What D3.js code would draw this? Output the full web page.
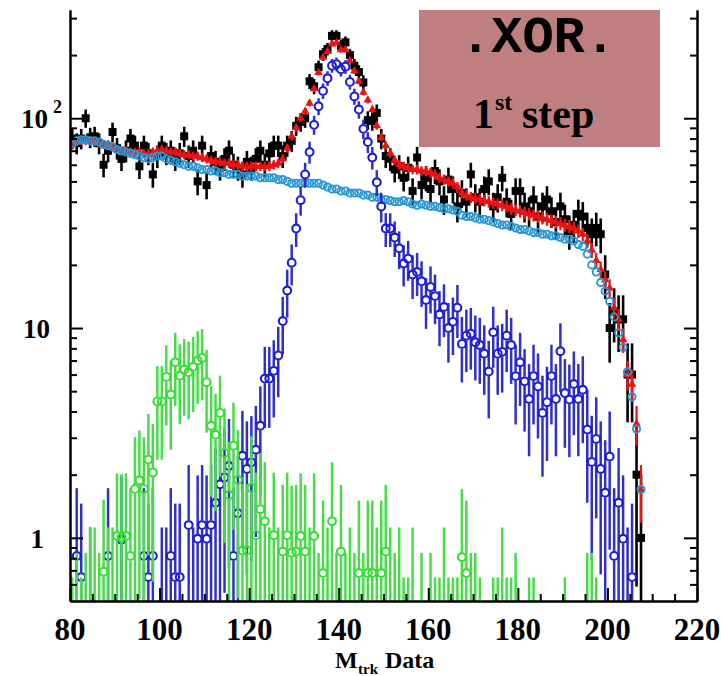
<!DOCTYPE html>
<html>
<head>
<meta charset="utf-8">
<script src="https://cdn.jsdelivr.net/npm/d3@7"></script>
<style>
  body { margin: 0; background: #fff; }
  .lbl { font-family: "Liberation Serif", "Times New Roman", serif; font-weight: bold; fill: #000; }
</style>
</head>
<body>
<svg id="chart" width="721" height="676"></svg>
<script>
// one unit wide bins, first bin starts at 80
const binStart = 80;

// black squares: data
const dataCounts = [
  80, 76, 80, 100, 81, 82, 76, 60, 70, 86,
  72, 64, 70, 80, 74, 59, 74, 68, 54, 66,
  74, 68, 70, 64, 68, 82, 66, 70, 50, 74,
  48, 66, 62, 58, 64, 70, 60, 58, 54, 62,
  58, 64, 70, 60, 68, 74, 74, 66, 74, 78,
  92, 96, 100, 150, 142, 175, 202, 214, 247, 247,
  221, 230, 200, 178, 166, 148, 98, 97, 106, 80,
  66, 64, 57, 59, 52, 58, 45, 65, 48, 52,
  46, 56, 50, 41, 51, 46, 38, 44, 40, 54,
  42, 40, 46, 50, 38, 42, 52, 40, 35, 45,
  45, 38, 36, 41, 34, 38, 41, 36, 32, 38,
  33, 29, 31, 35, 34, 30, 28, 30, 28, 18,
  10, 12, 11, 11, 6, 6, 2, 1
];

// red triangles: total MC
const sumMC = [
  75, 77, 78, 78, 78, 77, 76, 75, 74, 73,
  71, 70, 70, 69, 69, 69, 68, 68, 69, 70,
  71, 70, 69, 69, 68, 67, 67, 66, 66, 65,
  64, 63, 62, 62, 61, 61, 60, 60, 59, 59,
  59, 59, 59, 59, 59, 60, 61, 64, 72, 82,
  90, 100, 108, 118, 138, 165, 195, 208, 226, 229,
  212, 212, 188, 168, 150, 133, 122, 110, 92, 81,
  74, 68, 63, 60, 59, 58, 57, 57, 56, 56,
  55, 54, 52, 51, 50, 49, 47, 44, 43, 42,
  41.5, 41, 40.5, 40, 39.5, 39, 38.5, 38, 37, 36.5,
  36, 35.5, 35, 34.5, 34, 33.5, 33, 32.5, 32, 31.5,
  31, 30.5, 30, 29, 28, 26, 23.5, 21, 19, 17,
  15.5, 12.5, 11, 8.8, 6.0, 5.4, 3.5, 1.7
];

// light blue open circles: background MC
const bkgMC = [
  76, 78, 79, 79, 78, 78, 77, 75, 74, 73,
  71, 70, 69, 68, 67, 66, 65, 64, 65, 66,
  66, 64, 63, 62, 61, 60, 59, 59, 58, 57,
  57, 56, 56, 55, 55, 54, 54, 54, 53, 53,
  53, 53, 52, 52, 52, 52, 51, 51, 50, 49,
  49, 49, 49, 49, 49, 49, 48, 47, 46, 46,
  45, 45, 44, 44, 44, 43, 43, 42, 42, 41,
  41, 40.5, 40, 40, 40.5, 40, 39, 38.5, 39, 38.5,
  38, 38, 37.5, 37, 37, 36.5, 36, 34.5, 34, 34,
  33.5, 33, 33, 32.5, 32, 31.5, 31, 31, 30.5, 30,
  29.5, 29.5, 29, 28.5, 28.5, 28, 28, 27.5, 27.5, 27,
  26.5, 26.5, 26, 25, 24.5, 22.5, 20, 18.5, 16.5, 15,
  13.4, 11.3, 9.5, 8.1, 6.2, 4.7, 3.3, 1.7
];

// blue open circles: signal MC (null = empty bin)
const signalMC = [
  null, 0.82, 0.65, null, 0.45, null, null, null, 0.82, null,
  null, 0.98, null, null, null, null, 0.82, 0.65, 0.82, null,
  0.45, 0.45, 0.82, 0.65, 0.65, null, 1.15, 0.45, 0.99, 1.15,
  0.99, 1.15, 1.47, 1.8, 1.94, 2.2, 0.82, 1.31, 2.46, 2.13,
  2.29, 2.63, 3.42, 5.74, 5.74, 6.25, 7.4, 10.8, 15.1, 20.5,
  29.8, 40.7, 54, 69, 93, 114, 135, 155, 178, 181,
  171, 176, 149, 127, 110, 89, 77, 65, 49.5, 38,
  29.8, 29.8, 27, 24, 20.3, 21.4, 18, 18.5, 16.7, 13.6,
  15.7, 14.2, 11.6, 12.6, 10, 10.7, 12.5, 8.4, 9.2, 9.4,
  8.55, 8.3, 7.55, 6.2, 9.55, 7.55, 7.7, 9.2, 8.3, 5.9,
  6.87, 5.57, 4.59, 5.9, 5.27, 3.94, 4.43, 5.9, 4.59, 7.75,
  4.9, 4.56, 5.41, 4.59, 5.08, 3.28, 2.3, 2.96, 2.13, 1.64,
  2.44, 0.82, 1.47, 0.99, 0.45, 0.65, null, null
];

// green open circles: other MC component
const greenMC = [
  0.2, 0.3, 0.2, 0.3, 0.45, 0.45, 0.3, 0.69, 0.45, 0.45,
  1.02, 1.01, 1.02, 0.82, 1.71, 1.88, 1.71, 2.36, 2.05, 4.47,
  4.47, 5.85, 4.82, 6.87, 5.93, 6.34, 6.15, 6.53, 7.0, 7.2,
  5.52, 3.42, 3.1, 3.94, 2.54, 1.6, 2.75, 1.89, 0.87, 0.87,
  1.73, 1.03, 1.37, 1.2, 0.45, 1.03, 0.45, 0.86, 1.03, 0.85,
  0.86, 1.02, 0.86, 0.45, 1.02, 0.3, 0.68, 0.45, 1.2, 0.3,
  0.86, 0.3, 0.45, 0.3, 0.68, 0.3, 0.68, 0.68, 0.45, 0.68,
  0.86, 0.45, 0.3, 0.45, 0.2, 0.2, 0.45, null, 0.3, null,
  0.3, 0.2, 0.2, 0.45, 0.2, 0.2, 0.2, 0.81, 0.68, 0.3,
  0.3, 0.2, null, null, 0.2, 0.2, 0.45, 0.2, 0.2, 0.3,
  null, null, 0.2, 0.2, null, null, null, null, null, null,
  0.2, null, null, null, null, 0.3, 0.3, 0.2, null, null,
  null, null, null, null, null, null, null, null
];

const xMajorTicks = [80, 100, 120, 140, 160, 180, 200, 220];
const yMajorTicks = [1, 10, 100];

const plot = { left: 70, right: 697, top: 10, bottom: 601 };

const xScale = d3.scaleLinear().domain([80, 220]).range([plot.left, plot.right]);
const yScale = d3.scaleLog().domain([0.5, 328]).range([plot.bottom, plot.top]);

const svg = d3.select("#chart");

svg
  .append("defs")
  .append("clipPath")
  .attr("id", "plotClip")
  .append("rect")
  .attr("x", plot.left)
  .attr("y", plot.top)
  .attr("width", plot.right - plot.left)
  .attr("height", plot.bottom - plot.top);

const marks = svg.append("g").attr("clip-path", "url(#plotClip)");

function toPoints(values, errScale) {
  return values
    .map((v, i) => {
      if (v === null) return null;
      const e = errScale * Math.sqrt(v);
      return { x: binStart + i + 0.5, v: v, lo: v - e, hi: v + e };
    })
    .filter((d) => d !== null);
}

function drawErrorBars(g, pts, color, width, gap) {
  const segs = [];
  pts.forEach((p) => {
    const cx = xScale(p.x);
    const cy = yScale(p.v);
    const yHi = yScale(p.hi);
    const yLo = yScale(p.lo > 0.05 ? p.lo : 0.05);
    if (gap > 0) {
      segs.push({ x: cx, y1: yHi, y2: cy - gap });
      segs.push({ x: cx, y1: cy + gap, y2: yLo });
    } else {
      segs.push({ x: cx, y1: yHi, y2: yLo });
    }
  });
  g.append("g")
    .selectAll("line")
    .data(segs.filter((s) => s.y2 > s.y1))
    .join("line")
    .attr("x1", (d) => d.x)
    .attr("x2", (d) => d.x)
    .attr("y1", (d) => d.y1)
    .attr("y2", (d) => d.y2)
    .attr("stroke", color)
    .attr("stroke-width", width);
}

function drawCircles(g, pts, color, r, sw) {
  g.append("g")
    .selectAll("circle")
    .data(pts)
    .join("circle")
    .attr("cx", (d) => xScale(d.x))
    .attr("cy", (d) => yScale(d.v))
    .attr("r", r)
    .attr("fill", "none")
    .attr("stroke", color)
    .attr("stroke-width", sw);
}

// data: black squares
const dataPts = toPoints(dataCounts, 1);
drawErrorBars(marks, dataPts, "#000", 2.6, 0);
marks
  .append("g")
  .selectAll("rect")
  .data(dataPts)
  .join("rect")
  .attr("x", (d) => xScale(d.x) - 4)
  .attr("y", (d) => yScale(d.v) - 4)
  .attr("width", 8)
  .attr("height", 8)
  .attr("fill", "#000");

// total MC: red triangles
const sumPts = toPoints(sumMC, 0.4);
drawErrorBars(marks, sumPts, "#ee1111", 2.2, 0);
marks
  .append("g")
  .selectAll("path")
  .data(sumPts)
  .join("path")
  .attr("transform", (d) => `translate(${xScale(d.x)},${yScale(d.v)})`)
  .attr("d", d3.symbol().type(d3.symbolTriangle).size(32))
  .attr("fill", "#ee1111");

// background MC: light blue circles, no visible error bars
const bkgPts = toPoints(bkgMC, 0);
drawCircles(marks, bkgPts, "#2896d0", 3.6, 1.9);

// signal MC: blue circles
const sigPts = toPoints(signalMC, 1);
drawErrorBars(marks, sigPts, "#3030c8", 2.5, 4.6);
drawCircles(marks, sigPts, "#1c1cdc", 3.9, 2.1);

// green component
const grnPts = toPoints(greenMC, 1);
drawErrorBars(marks, grnPts, "#48dc48", 2.5, 4.6);
drawCircles(marks, grnPts, "#33e033", 3.9, 2.1);

// axes: ticks point into the frame
const yMinorTicks = [];
[0.1, 1, 10, 100].forEach((dec) => {
  for (let k = 2; k <= 9; k++) {
    const t = k * dec;
    if (t > 0.5 && t <= 328) yMinorTicks.push(t);
  }
});
const xMinorTicks = d3.range(80, 221, 5).filter((t) => t % 20 !== 0);

function styleAxis(g) {
  g.selectAll("path, line").attr("stroke", "#000").attr("stroke-width", 2);
  g.selectAll("text").remove();
}

[
  { axis: d3.axisRight, x: plot.left },
  { axis: d3.axisLeft, x: plot.right },
].forEach((a) => {
  svg
    .append("g")
    .attr("transform", `translate(${a.x},0)`)
    .call(a.axis(yScale).tickValues(yMajorTicks).tickSize(13).tickSizeOuter(0).tickFormat(""))
    .call(styleAxis);
  svg
    .append("g")
    .attr("transform", `translate(${a.x},0)`)
    .call(a.axis(yScale).tickValues(yMinorTicks).tickSize(7).tickSizeOuter(0).tickFormat(""))
    .call(styleAxis);
});

svg
  .append("g")
  .attr("transform", `translate(0,${plot.bottom})`)
  .call(d3.axisTop(xScale).tickValues(xMajorTicks).tickSize(13).tickSizeOuter(0).tickFormat(""))
  .call(styleAxis);
svg
  .append("g")
  .attr("transform", `translate(0,${plot.bottom})`)
  .call(d3.axisTop(xScale).tickValues(xMinorTicks).tickSize(7).tickSizeOuter(0).tickFormat(""))
  .call(styleAxis);

// tick labels
svg
  .append("g")
  .selectAll("text")
  .data(xMajorTicks)
  .join("text")
  .attr("class", "lbl")
  .attr("x", (d) => xScale(d))
  .attr("y", 640)
  .attr("text-anchor", "middle")
  .attr("font-size", 31)
  .text((d) => d);

svg.append("text").attr("class", "lbl").attr("x", 44).attr("y", yScale(1) + 10)
  .attr("text-anchor", "end").attr("font-size", 27).text("1");
svg.append("text").attr("class", "lbl").attr("x", 50).attr("y", yScale(10) + 10)
  .attr("text-anchor", "end").attr("font-size", 27).text("10");
svg.append("text").attr("class", "lbl").attr("x", 48).attr("y", yScale(100) + 10)
  .attr("text-anchor", "end").attr("font-size", 27).text("10");
svg.append("text").attr("class", "lbl").attr("x", 53).attr("y", yScale(100) - 5)
  .attr("font-size", 18).text("2");

// axis title
svg.append("text").attr("class", "lbl").attr("x", 335).attr("y", 668).attr("font-size", 24).text("M");
svg.append("text").attr("class", "lbl").attr("x", 358).attr("y", 674).attr("font-size", 15).text("trk");
svg.append("text").attr("class", "lbl").attr("x", 385).attr("y", 668).attr("font-size", 24).text("Data");

// label box
svg
  .append("rect")
  .attr("x", 419)
  .attr("y", 10)
  .attr("width", 241)
  .attr("height", 137)
  .attr("fill", "#bf7f7f");

svg
  .append("text")
  .attr("x", 460)
  .attr("y", 52)
  .attr("font-family", "'Liberation Mono', 'Courier New', monospace")
  .attr("font-weight", "bold")
  .attr("font-size", 52)
  .attr("fill", "#000")
  .text(".XOR.");

svg.append("text").attr("class", "lbl").attr("x", 473).attr("y", 128).attr("font-size", 42).text("1");
svg.append("text").attr("class", "lbl").attr("x", 495).attr("y", 110).attr("font-size", 24).text("st");
svg.append("text").attr("class", "lbl").attr("x", 522).attr("y", 128).attr("font-size", 42).text("step");
</script>
</body>
</html>
